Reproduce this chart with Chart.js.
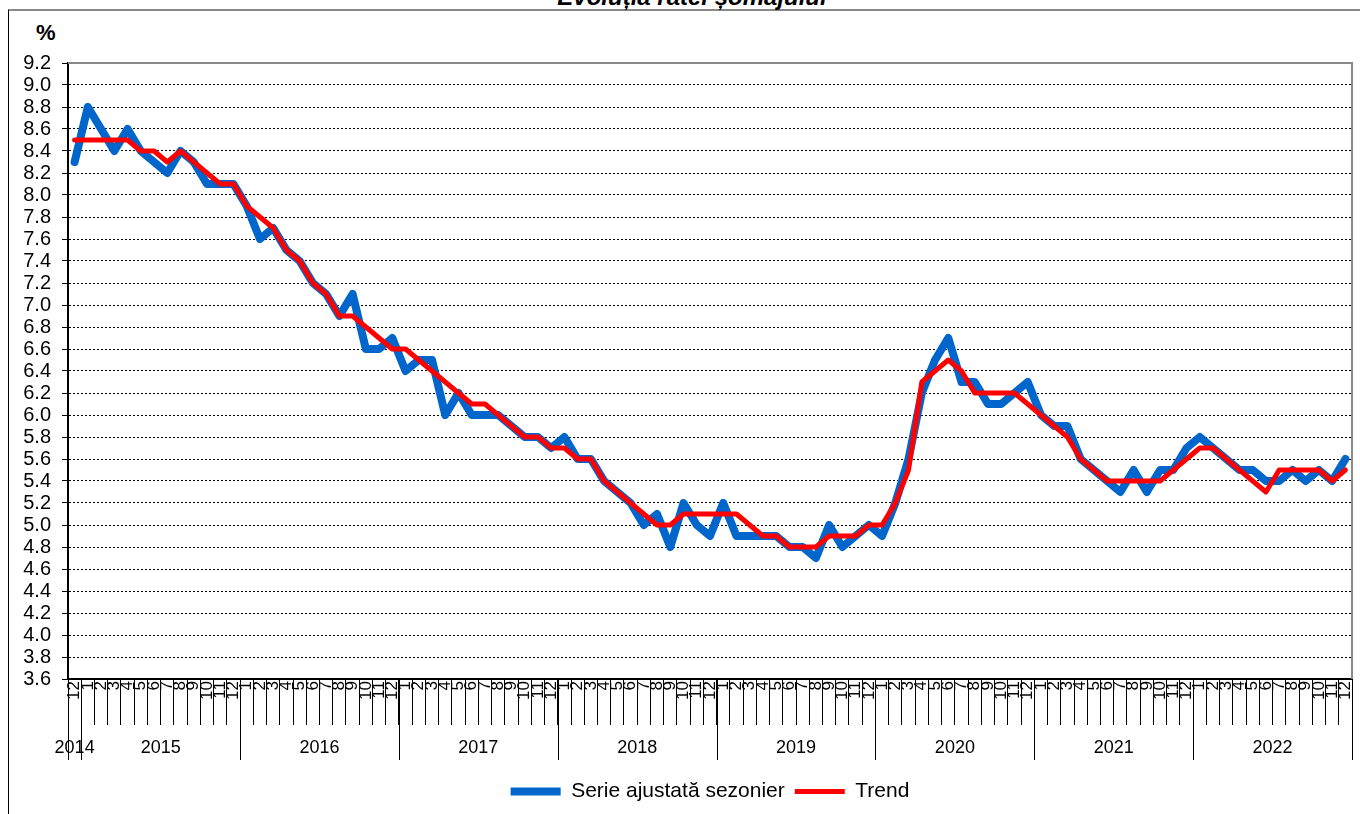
<!DOCTYPE html>
<html lang="ro">
<head>
<meta charset="UTF-8">
<title>Evoluția ratei șomajului</title>
<script src="https://cdn.jsdelivr.net/npm/chart.js"></script>
<style>
    body { margin: 0; width: 1360px; height: 814px; overflow: hidden; background: #fff; position: relative; font-family: "Liberation Sans", Arial, sans-serif; }
    .cadru { position: absolute; left: 8px; top: 9px; width: 1370px; height: 830px; border-left: 1px solid #000; border-top: 2px solid #888; }
    .titlu { position: absolute; left: 0; width: 1384px; top: -15px; text-align: center; font: italic bold 24px "Liberation Sans", Arial, sans-serif; line-height: 24px; }
    .procent { position: absolute; left: 36px; top: 20px; font: bold 22px "Liberation Sans", Arial, sans-serif; }
    #grafic { position: absolute; left: 0; top: 0; }
</style>
</head>
<body>
<div class="cadru"></div>
<div class="titlu">Evoluția ratei șomajului</div>
<div class="procent">%</div>
<canvas id="grafic" width="1360" height="814"></canvas>

<script>
    // luna 12/2014 ... 12/2022
    const ani = ['2014', '2015', '2016', '2017', '2018', '2019', '2020', '2021', '2022'];
    const luniPeAn = [1, 12, 12, 12, 12, 12, 12, 12, 12];
    const luniAn = ['1', '2', '3', '4', '5', '6', '7', '8', '9', '10', '11', '12'];
    const luni = ['12'];
    for (let k = 1; k < ani.length; k++) luni.push(...luniAn);

    const serieAjustata = [
        8.3,
        8.8, 8.6, 8.4, 8.6, 8.4, 8.3, 8.2, 8.4, 8.3, 8.1, 8.1, 8.1,
        7.9, 7.6, 7.7, 7.5, 7.4, 7.2, 7.1, 6.9, 7.1, 6.6, 6.6, 6.7,
        6.4, 6.5, 6.5, 6.0, 6.2, 6.0, 6.0, 6.0, 5.9, 5.8, 5.8, 5.7,
        5.8, 5.6, 5.6, 5.4, 5.3, 5.2, 5.0, 5.1, 4.8, 5.2, 5.0, 4.9,
        5.2, 4.9, 4.9, 4.9, 4.9, 4.8, 4.8, 4.7, 5.0, 4.8, 4.9, 5.0,
        4.9, 5.2, 5.6, 6.2, 6.5, 6.7, 6.3, 6.3, 6.1, 6.1, 6.2, 6.3,
        6.0, 5.9, 5.9, 5.6, 5.5, 5.4, 5.3, 5.5, 5.3, 5.5, 5.5, 5.7,
        5.8, 5.7, 5.6, 5.5, 5.5, 5.4, 5.4, 5.5, 5.4, 5.5, 5.4, 5.6
    ];
    const trend = [
        8.5,
        8.5, 8.5, 8.5, 8.5, 8.4, 8.4, 8.3, 8.4, 8.3, 8.2, 8.1, 8.1,
        7.9, 7.8, 7.7, 7.5, 7.4, 7.2, 7.1, 6.9, 6.9, 6.8, 6.7, 6.6,
        6.6, 6.5, 6.4, 6.3, 6.2, 6.1, 6.1, 6.0, 5.9, 5.8, 5.8, 5.7,
        5.7, 5.6, 5.6, 5.4, 5.3, 5.2, 5.1, 5.0, 5.0, 5.1, 5.1, 5.1,
        5.1, 5.1, 5.0, 4.9, 4.9, 4.8, 4.8, 4.8, 4.9, 4.9, 4.9, 5.0,
        5.0, 5.2, 5.5, 6.3, 6.4, 6.5, 6.4, 6.2, 6.2, 6.2, 6.2, 6.1,
        6.0, 5.9, 5.8, 5.6, 5.5, 5.4, 5.4, 5.4, 5.4, 5.4, 5.5, 5.6,
        5.7, 5.7, 5.6, 5.5, 5.4, 5.3, 5.5, 5.5, 5.5, 5.5, 5.4, 5.5
    ];

    const yMin = 3.6;
    const yMax = 9.2;
    const yPas = 0.2;

    const font = '"Liberation Sans", Arial, sans-serif';

    // chenarul zonei de grafic + etichetele anilor
    const pluginAni = {
        id: 'pluginAni',
        afterDraw(chart) {
            const ctx = chart.ctx;
            const x = chart.scales.x;
            const zona = chart.chartArea;
            const lat = x.getPixelForValue(1) - x.getPixelForValue(0);

            ctx.save();
            ctx.strokeStyle = '#888';
            ctx.lineWidth = 2;
            ctx.beginPath();
            ctx.moveTo(zona.left, zona.top);
            ctx.lineTo(zona.right, zona.top);
            ctx.lineTo(zona.right, zona.bottom);
            ctx.stroke();

            ctx.strokeStyle = '#000';
            ctx.lineWidth = 1;
            ctx.fillStyle = '#000';
            ctx.font = '18px ' + font;
            ctx.textAlign = 'center';
            ctx.textBaseline = 'middle';
            let start = 0;
            ani.forEach((an, k) => {
                const x0 = x.getPixelForValue(start) - lat / 2;
                const x1 = x.getPixelForValue(start + luniPeAn[k] - 1) + lat / 2;
                ctx.beginPath();
                ctx.moveTo(Math.round(x0) + 0.5, zona.bottom);
                ctx.lineTo(Math.round(x0) + 0.5, zona.bottom + 81);
                ctx.moveTo(Math.round(x1) + 0.5, zona.bottom);
                ctx.lineTo(Math.round(x1) + 0.5, zona.bottom + 81);
                ctx.stroke();
                ctx.fillText(an, (x0 + x1) / 2, zona.bottom + 69);
                start += luniPeAn[k];
            });
            ctx.restore();
        }
    };

    const data = {
        labels: luni,
        datasets: [
            {
                label: 'Serie ajustată sezonier',
                data: serieAjustata,
                borderColor: '#0066CC',
                backgroundColor: '#0066CC',
                borderWidth: 8,
                borderCapStyle: 'round',
                borderJoinStyle: 'round',
                pointRadius: 0,
                tension: 0,
                order: 2
            },
            {
                label: 'Trend',
                data: trend,
                borderColor: '#FF0000',
                backgroundColor: '#FF0000',
                borderWidth: 5,
                borderCapStyle: 'round',
                borderJoinStyle: 'round',
                pointRadius: 0,
                tension: 0,
                order: 1
            }
        ]
    };

    const config = {
        type: 'line',
        data: data,
        plugins: [pluginAni],
        options: {
            responsive: false,
            animation: false,
            layout: {
                padding: { left: 10, right: 8, top: 63, bottom: 2 }
            },
            scales: {
                x: {
                    offset: true,
                    grid: {
                        display: true,
                        offset: true,
                        drawOnChartArea: false,
                        drawTicks: true,
                        tickLength: 46,
                        color: '#000',
                        lineWidth: 1
                    },
                    border: { display: true, color: '#000', width: 2 },
                    ticks: {
                        autoSkip: false,
                        minRotation: 90,
                        maxRotation: 90,
                        padding: -44,
                        color: '#000',
                        font: { size: 17, family: font }
                    },
                    afterFit: (scale) => { scale.height = 92; }
                },
                y: {
                    min: yMin,
                    max: yMax,
                    grid: {
                        color: '#000',
                        lineWidth: 1,
                        tickLength: 6,
                        tickColor: '#000',
                        tickBorderDash: []
                    },
                    border: { display: true, color: '#000', width: 2, dash: [2, 2] },
                    ticks: {
                        stepSize: yPas,
                        autoSkip: false,
                        padding: 11,
                        color: '#000',
                        font: { size: 20, family: font },
                        callback: (v) => Number(v).toFixed(1)
                    },
                    afterFit: (scale) => { scale.width = 58; }
                }
            },
            plugins: {
                tooltip: { enabled: false },
                title: { display: false },
                legend: {
                    position: 'bottom',
                    fullSize: false,
                    labels: {
                        usePointStyle: true,
                        pointStyle: 'line',
                        pointStyleWidth: 50,
                        padding: 10,
                        color: '#000',
                        font: { size: 21, family: font },
                        sort: (a, b) => a.datasetIndex - b.datasetIndex
                    }
                }
            }
        }
    };

    let grafic = new Chart(document.getElementById('grafic'), config);
</script>
</body>
</html>
